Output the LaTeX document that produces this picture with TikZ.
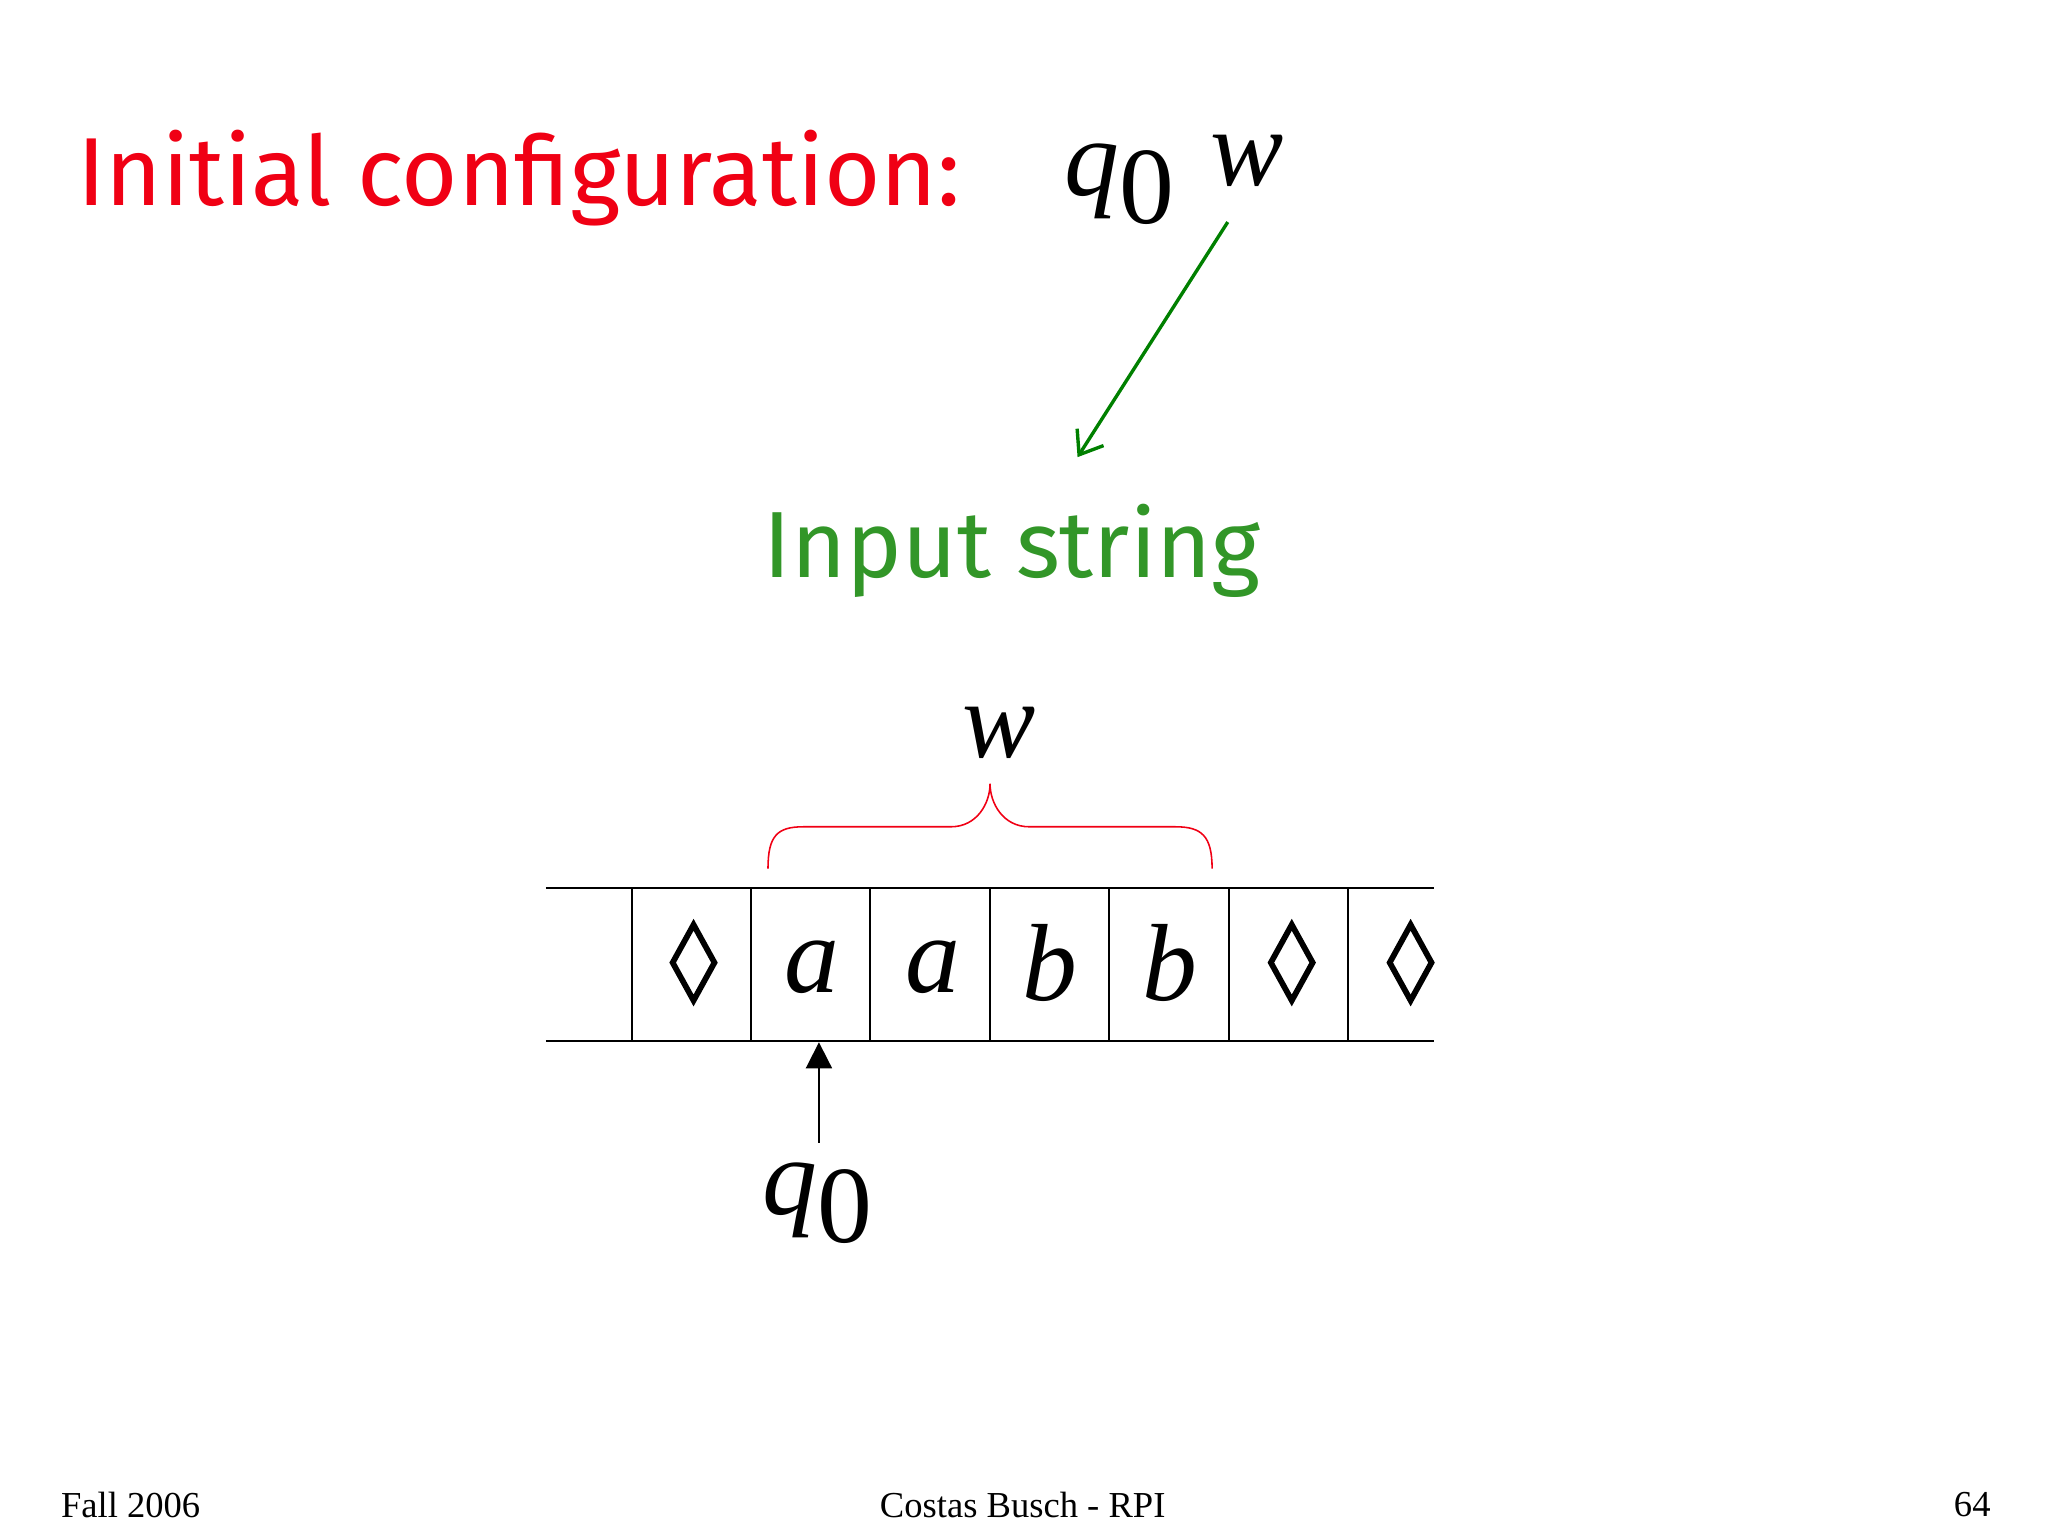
\documentclass[tikz,border=0pt]{standalone}
\usepackage{fontspec}
\setmainfont{Liberation Serif}
\newfontfamily\comic{Fira Sans}
\usetikzlibrary{arrows.meta,decorations.pathreplacing}
\definecolor{tred}{RGB}{240,0,20}
\definecolor{tgreen}{RGB}{50,150,40}
\definecolor{agreen}{RGB}{0,128,0}
\newcommand{\qz}{\textit{q}\raisebox{-0.25em}{0}}
\begin{document}
\begin{tikzpicture}[x=0.5pt,y=-0.5pt,
  cellv/.style={font=\fontsize{42}{48}\selectfont\itshape},
  big/.style={font=\fontsize{42}{48}\selectfont},
  foot/.style={font=\fontsize{14}{16}\selectfont}]
\useasboundingbox (0,0) rectangle (1568,1176);
\node[anchor=base west,text=tred,font=\comic\fontsize{37}{40}\selectfont] (title) at (52,157) {Initial configuration:};
\node[big,anchor=base] (q0t) at (857,150) {\qz};
\node[big,anchor=base] (wt) at (955,142) {\textit{w}};
\coordinate (as) at (940,170);
\coordinate (ae) at (825,350);
\draw[agreen,line width=1.3pt,-{Straight Barb[length=8pt,width=12pt]}] (as) -- (ae);
\node[text=tgreen,font=\comic\fontsize{36}{40}\selectfont] (inp) at (775,422) {Input string};
\node[big,anchor=base] (w) at (765,580) {\textit{w}};
\draw[tred,line width=0.6pt] (588,665) .. controls (588,640) and (595,633) .. (615,633) -- (728,633) .. controls (748,633) and (758,615) .. (758,600) .. controls (758,615) and (768,633) .. (788,633) -- (900,633) .. controls (920,633) and (928,640) .. (928,665);
\draw[line width=0.7pt] (418,680) -- (1098,680) (418,797) -- (1098,797);
\foreach \x in {484,575,666,758,849,941,1032} \draw[line width=0.7pt] (\x,680) -- (\x,797);
\foreach \x in {531,989,1080} \draw[line width=2.2pt] (\x,708) -- (\x+16,737) -- (\x,766) -- (\x-16,737) -- cycle;
\node[cellv,anchor=base] (c1) at (622,760) {a};
\node[cellv,anchor=base] (c2) at (714,760) {a};
\node[cellv,anchor=base] (c3) at (804,766) {b};
\node[cellv,anchor=base] (c4) at (896,766) {b};
\node[big,anchor=base] (q0) at (626,930) {\qz};
\draw[line width=0.7pt,-{Triangle[length=10pt,width=10pt]}] (627,875) -- (627,798);
\node[foot] (f1) at (100,1152) {Fall 2006};
\node[foot] (f2) at (783,1152) {Costas Busch - RPI};
\node[foot] (f3) at (1510,1152) {64};
\end{tikzpicture}
\end{document}
